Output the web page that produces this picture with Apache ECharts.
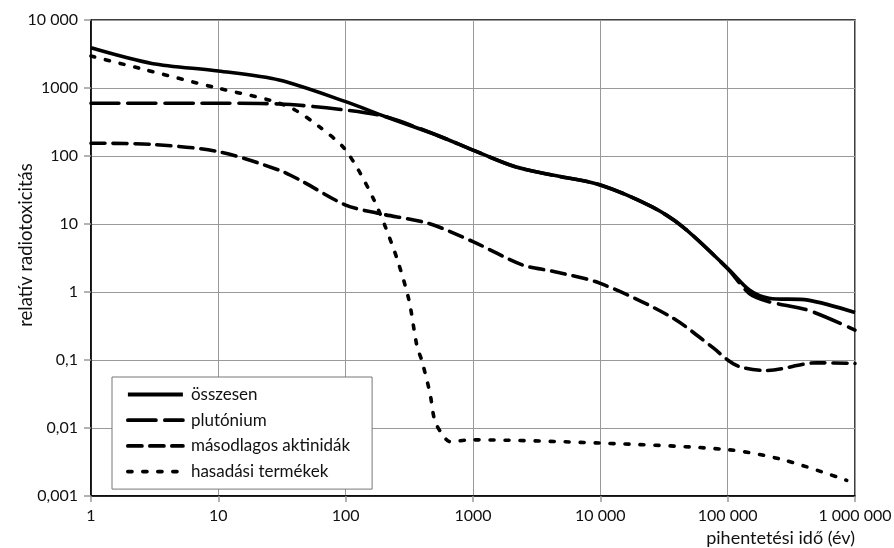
<!DOCTYPE html>
<html>
<head>
<meta charset="utf-8">
<script src="https://cdn.jsdelivr.net/npm/echarts@6/dist/echarts.min.js"></script>
<style>
html,body{margin:0;padding:0;background:#fff;}
#c{width:894px;height:548px;}
</style>
</head>
<body>
<div id="c"></div>
<script>
const seriesNames = ['összesen', 'plutónium', 'másodlagos aktinidák', 'hasadási termékek'];

const totalX = [1, 3, 10, 30, 100, 206, 516, 1000, 2120, 4310, 10000, 25300, 44400, 100000, 148000, 211000, 428000, 1000000];
const totalY = [3900, 2300, 1780, 1310, 630, 378, 204, 122, 70, 52, 37.5, 18, 9.1, 2.23, 1.07, 0.81, 0.76, 0.50];

const plutX = [1, 10, 30, 100, 206, 516, 1000, 2120, 4310, 10000, 25300, 44400, 100000, 148000, 211000, 428000, 1000000];
const plutY = [596, 596, 582, 475, 378, 204, 122, 70, 52, 37.5, 18, 9.1, 2.2, 0.95, 0.72, 0.54, 0.276];

const minorX = [1, 3, 10, 30, 44, 100, 178, 447, 1000, 2450, 4310, 10000, 35900, 78000, 100000, 126000, 202000, 500000, 1000000];
const minorY = [154, 148, 116, 62, 44, 19, 14.4, 10.2, 5.5, 2.5, 2.0, 1.34, 0.43, 0.148, 0.1, 0.079, 0.07, 0.091, 0.089];

const fissX = [1, 2.4, 10, 25.5, 40, 62, 95, 126, 167, 205, 255, 314, 363, 395, 460, 500, 568, 660, 947, 10000, 100000, 274000, 860000];
const fissY = [2950, 1950, 990, 660, 475, 270, 137, 62, 22.5, 9.1, 2.96, 0.76, 0.16, 0.1, 0.032, 0.013, 0.0083, 0.0063, 0.0067, 0.006, 0.0048, 0.0034, 0.0017];

const xTickLabels = {1:'1', 10:'10', 100:'100', 1000:'1000', 10000:'10 000', 100000:'100 000', 1000000:'1 000 000'};
const yTickLabels = {0.001:'0,001', 0.01:'0,01', 0.1:'0,1', 1:'1', 10:'10', 100:'100', 1000:'1000', 10000:'10 000'};

function zip(xs, ys){ return xs.map((x,i)=>[x, ys[i]]); }
function lookup(map, v){
  for (const k in map){ if (Math.abs(Math.log10(+k) - Math.log10(v)) < 1e-6) return map[k]; }
  return '';
}

const FONT = 'Lato';
const chart = echarts.init(document.getElementById('c'));
const styles = [
  {type:'solid', width:3.6, cap:'butt'},
  {type:[28,9], width:3.6, cap:'round'},
  {type:[14,8], width:3.6, cap:'round'},
  {type:[4,11], width:3.6, cap:'round'}
];
const datas = [zip(totalX,totalY), zip(plutX,plutY), zip(minorX,minorY), zip(fissX,fissY)];

chart.setOption({
  animation:false,
  backgroundColor:'#fff',
  textStyle:{fontFamily:FONT},
  grid:{left:91, right:39, top:20, bottom:52, show:true, borderColor:'#000', borderWidth:1.5, containLabel:false, outerBoundsMode:'none'},
  legend:{
    orient:'vertical', left:112, top:377,
    padding:[9,22,9,14],
    itemGap:8.7, itemWidth:55, itemHeight:14,
    backgroundColor:'#fff', borderColor:'#777', borderWidth:1, borderRadius:0,
    itemStyle:{opacity:0, color:'rgba(0,0,0,0)', borderWidth:0},
    lineStyle:{width:3.8},
    textStyle:{fontFamily:FONT, fontSize:17, color:'#111', padding:[0,0,0,3]},
    data: seriesNames
  },
  xAxis:{
    type:'log', logBase:10, min:1, max:1000000,
    name:'pihentetési idő (év)', nameLocation:'end', nameMoveOverlap:false,
    nameTextStyle:{fontFamily:FONT, fontSize:18, color:'#111', align:'right', verticalAlign:'top', padding:[33,0,0,0]},
    nameGap:0,
    axisLine:{show:true, lineStyle:{color:'#000', width:1.5}},
    axisTick:{show:true, length:6, lineStyle:{color:'#999', width:1.5}},
    axisLabel:{fontFamily:FONT, fontSize:16, color:'#111', margin:12, formatter:v=>lookup(xTickLabels, v)},
    splitLine:{show:true, lineStyle:{color:'#999', width:1}},
    minorTick:{show:false}
  },
  yAxis:{
    type:'log', logBase:10, min:0.001, max:10000,
    name:'relatív radiotoxicitás', nameLocation:'middle', nameGap:65, nameRotate:90, nameMoveOverlap:false,
    nameTextStyle:{fontFamily:FONT, fontSize:18.5, color:'#111', padding:[0,0,0,26], verticalAlign:'middle'},
    axisLine:{show:true, lineStyle:{color:'#000', width:1.5}},
    axisTick:{show:true, length:7, lineStyle:{color:'#999', width:1.5}},
    axisLabel:{fontFamily:FONT, fontSize:16, color:'#111', margin:13, formatter:v=>lookup(yTickLabels, v)},
    splitLine:{show:true, lineStyle:{color:'#999', width:1}}
  },
  series: seriesNames.map((n,i)=>({
    name:n, type:'line', data:datas[i], smooth:0.3, symbol:'none', showSymbol:false,
    lineStyle:{color:'#000', width:styles[i].width, type:styles[i].type, cap:styles[i].cap},
    itemStyle:{color:'#000'},
    z: 10-i
  }))
});
</script>
</body>
</html>
